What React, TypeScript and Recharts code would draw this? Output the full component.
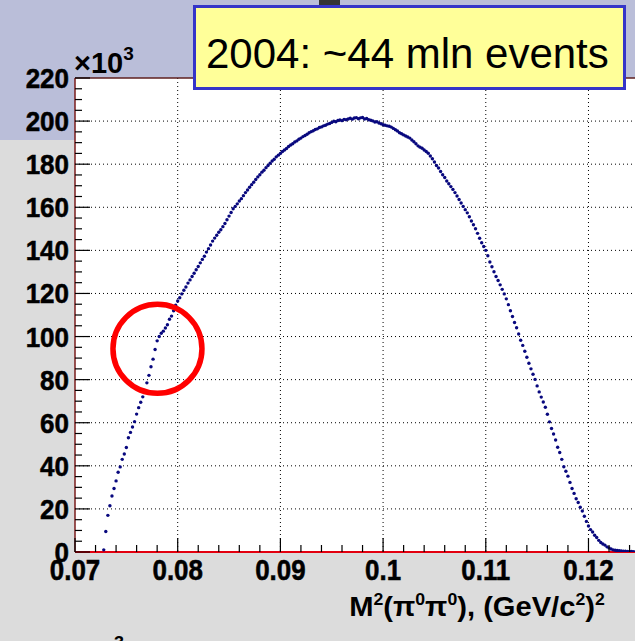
import React from 'react';
import {
  ScatterChart,
  Scatter,
  XAxis,
  YAxis,
  CartesianGrid,
  ReferenceLine,
  ReferenceDot,
} from 'recharts';

// histogram of M^2(pi0 pi0), bins of 0.0002 (GeV/c^2)^2, counts in units of 10^3
const BIN_WIDTH = 0.0002;

// threshold rise up to the pi+pi- cusp
const riseStart = 0.0728;
const riseCounts = [
  1, 9.5, 17, 21.5, 26, 29.5, 33, 37, 39.5, 43,
  45.5, 48.5, 53, 55.5, 58, 60.5, 64, 67, 69.5, 72,
  75, 78.5, 82, 86, 89.5, 94, 98, 100, 101.5, 102.5,
  104, 105.5, 108, 109.5, 112, 114.5,
];

// towards the maximum
const peakStart = 0.08;
const peakCounts = [
  116.5, 118, 119.8, 121.5, 123, 124.8, 126.3, 127.9, 129.4, 131,
  132.5, 134.2, 135.8, 137.3, 139.2, 140.8, 142.5, 144.3, 145.7, 147,
  148.4, 149.6, 151, 152.5, 154.2, 155.9, 157.6, 159.3, 160.4, 161.6,
  162.9, 164, 165.4, 166.8, 168, 169.3, 170.5, 171.6, 172.9, 174.1,
  175.1, 176.3, 177.2, 178.4, 179.4, 180.4, 181.5, 182.3, 183.4, 184.2,
  185, 185.9, 186.6, 187.3, 188.2, 188.9, 189.5, 190.3, 190.8, 191.6,
  192.1, 192.8, 193.3, 193.9, 194.6, 195.1, 195.5, 196.1, 196.4, 197,
  197.3, 197.8, 198.1, 198.6, 198.9, 199.4, 199.9, 199.7, 200.3, 200.5,
  200.2, 200.8, 200.6, 201, 201.3, 200.9, 201.4, 201.6, 201.1, 201.5,
  201.7, 201, 201.2, 200.6, 200.4, 200.1, 199.6, 199.7, 199.1, 198.8,
];

// falling side
const fallStart = 0.1;
const fallCounts = [
  198.3, 198.1, 197.8, 197.6, 197.2, 196.6, 196, 195.4, 194.6, 194.1,
  193.6, 193.1, 192.6, 192.1, 191.2, 190.4, 189.5, 188.5, 187.9, 187.4,
  186.6, 185.9, 185.1, 183.8, 182.5, 181, 179.4, 178.2, 176.6, 175.1,
  173.8, 172.2, 170.9, 169.6, 168.3, 166.8, 165.2, 163.6, 162, 160.4,
  158.9, 157.4, 155.6, 153.6, 151.9, 150, 147.9, 145.6, 143.5, 141.8,
  140, 137.5, 134.6, 132.4, 130.1, 127.9, 126, 124, 121.9, 119.8,
  117.5, 114.8, 112, 109.3, 106.5, 104.1, 101.2, 98.3, 95.9, 93.2,
  90.4, 87.6, 85, 82.5, 80.1, 77.1, 74.3, 71.9, 69.6, 67.2,
  63.9, 60.4, 57.3, 54.8, 52, 48.6, 46.2, 43, 39.6, 37.5,
  35.2, 32.3, 29.5, 27.2, 24.7, 23, 20.8, 19, 16.6, 14.2,
];

// kinematic endpoint tail
const tailStart = 0.12;
const tailCounts = [
  12.1, 10.4, 9.3, 7.8, 6.7, 5.4, 4.4, 3.7, 3.2, 2.4,
  1.9, 1.4, 1.0, 0.8, 0.7, 0.6, 0.5, 0.4, 0.4, 0.3,
  0.2, 0.2, 0.1,
];

const xMajorTicks = [0.07, 0.08, 0.09, 0.1, 0.11, 0.12];
const yMajorTicks = [0, 20, 40, 60, 80, 100, 120, 140, 160, 180, 200, 220];

const segments: [number, number[]][] = [
  [riseStart, riseCounts],
  [peakStart, peakCounts],
  [fallStart, fallCounts],
  [tailStart, tailCounts],
];

const points = segments.flatMap(([start, counts]) =>
  counts.map((n, i) => ({ m2: Number((start + i * BIN_WIDTH).toFixed(4)), n }))
);

// minor ticks every 0.002 and every 5k
const xTicks: number[] = [];
for (let i = 0; i <= 27; i++) xTicks.push(Number((0.07 + i * 0.002).toFixed(3)));
const yTicks: number[] = [];
for (let i = 0; i <= 44; i++) yTicks.push(i * 5);

const FONT = '"Liberation Sans", Arial, Helvetica, sans-serif';
const isMajor = (list: number[], v: number) => list.some(t => Math.abs(t - v) < 1e-7);

const XTick = ({ x, y, payload }: any) => {
  const major = isMajor(xMajorTicks, payload.value);
  return (
    <g>
      <line x1={x} x2={x} y1={y} y2={y - (major ? 14 : 7)} stroke="#000" strokeWidth={1.2} />
      {major && (
        <text
          transform={`translate(${x},580) scale(0.96,1.08)`}
          textAnchor="middle"
          fontFamily={FONT}
          fontWeight="bold"
          fontSize={27}
          fill="#000"
          stroke="#000"
          strokeWidth={0.5}
        >
          {String(payload.value)}
        </text>
      )}
    </g>
  );
};

const YTick = ({ x, y, payload }: any) => {
  const major = isMajor(yMajorTicks, payload.value);
  return (
    <g>
      <line x1={x} x2={x + (major ? 15 : 7)} y1={y} y2={y} stroke="#000" strokeWidth={1.2} />
      {major && (
        <text
          transform={`translate(${x - 6},${y + 10}) scale(1,1.05)`}
          textAnchor="end"
          fontFamily={FONT}
          fontWeight="bold"
          fontSize={26}
          fill="#000"
          stroke="#000"
          strokeWidth={0.5}
        >
          {payload.value}
        </text>
      )}
    </g>
  );
};

const Dot = (props: any) => <circle cx={props.cx} cy={props.cy} r={1.7} fill="#08087e" />;

const supStyle: React.CSSProperties = { fontSize: 17, position: 'relative', top: -11, verticalAlign: 'baseline' };

export default function App() {
  return (
    <div
      style={{
        position: 'absolute',
        left: 0,
        top: 0,
        width: 635,
        height: 641,
        overflow: 'hidden',
        fontFamily: FONT,
        background: 'linear-gradient(#BABED9 0px, #BABED9 140px, #DCDCDC 140px, #DCDCDC 100%)',
      }}
    >
      <ScatterChart width={635} height={641} margin={{ top: 78, right: 0, bottom: 0, left: 0 }}>
        <CartesianGrid
          fill="#fff"
          stroke="#000"
          strokeDasharray="1 3"
          horizontalValues={[20, 40, 60, 80, 100, 120, 140, 160, 180, 200]}
          verticalValues={[0.08, 0.09, 0.1, 0.11, 0.12]}
        />
        <XAxis
          type="number"
          dataKey="m2"
          domain={[0.07, 0.12453]}
          allowDataOverflow
          ticks={xTicks}
          interval={0}
          tick={(p: any) => <XTick {...p} />}
          tickLine={false}
          tickSize={0}
          tickMargin={0}
          axisLine={{ stroke: '#e3000f', strokeWidth: 2 }}
          height={89}
        />
        <YAxis
          type="number"
          dataKey="n"
          domain={[0, 220]}
          allowDataOverflow
          ticks={yTicks}
          interval={0}
          tick={(p: any) => <YTick {...p} />}
          tickLine={false}
          tickSize={0}
          tickMargin={0}
          axisLine={{ stroke: '#7a1c1c', strokeWidth: 1.5 }}
          width={75}
        />
        <ReferenceLine y={220} stroke="#5e1f1f" strokeWidth={1.5} />
        <Scatter data={points} shape={Dot} isAnimationActive={false} />
        <ReferenceDot x={0.07803} y={94.3} r={44.5} fill="none" stroke="#ff0000" strokeWidth={5.5} />
      </ScatterChart>

      <svg
        width={635}
        height={641}
        style={{ position: 'absolute', left: 0, top: 0, pointerEvents: 'none' }}
      >
        <rect x={319} y={0} width={21} height={8} fill="#333" />
        <rect x={194.5} y={6.5} width={430} height={82} fill="#FFFF99" stroke="#3535C8" strokeWidth={3} />
        <text x={206} y={68} fontFamily={FONT} fontSize={42} fill="#000">
          2004: ~44 mln events
        </text>
      </svg>

      {/* exponent of the y axis */}
      <div
        style={{
          position: 'absolute',
          left: 74,
          top: 49,
          fontWeight: 'bold',
          fontSize: 29,
          lineHeight: '29px',
          whiteSpace: 'nowrap',
          color: '#000',
        }}
      >
        ×10<span style={{ ...supStyle, fontSize: 19, top: -13 }}>3</span>
      </div>

      {/* x axis title */}
      <div
        style={{
          position: 'absolute',
          right: 30,
          top: 593,
          fontWeight: 'bold',
          fontSize: 28,
          lineHeight: '28px',
          whiteSpace: 'nowrap',
          color: '#000',
          transform: 'scaleX(1.04)',
          transformOrigin: 'right center',
        }}
      >
        M<span style={supStyle}>2</span>(π<span style={supStyle}>0</span>π<span style={supStyle}>0</span>), (GeV/c
        <span style={supStyle}>2</span>)<span style={supStyle}>2</span>
      </div>

      {/* edge of the next panel's exponent */}
      <div
        style={{
          position: 'absolute',
          left: 114,
          top: 634,
          fontWeight: 'bold',
          fontSize: 18,
          lineHeight: '18px',
          color: '#000',
        }}
      >
        3
      </div>
    </div>
  );
}
